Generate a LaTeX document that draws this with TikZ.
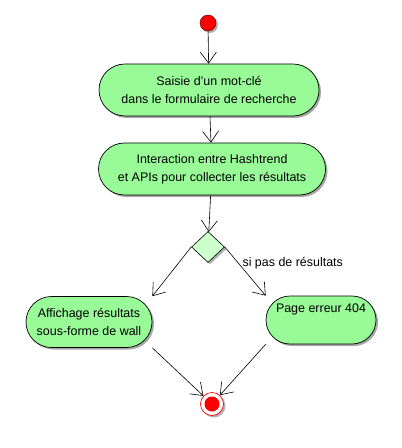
\documentclass[tikz,border=0pt]{standalone}
\usepackage{fontspec}
\setmainfont{Liberation Sans}
\usetikzlibrary{positioning, shapes.misc, shapes.geometric, shadows, arrows.meta}

\definecolor{actgreen}{RGB}{152,251,152}
\definecolor{decgreen}{RGB}{204,255,204}

\begin{document}
\begin{tikzpicture}[x=1bp, y=-1bp]
	\tikzstyle{activity}=[rounded rectangle, draw=black, line width=0.7bp, fill=actgreen, align=center, inner sep=2bp, font=\fontsize{12.5}{18.5}\selectfont, drop shadow={shadow xshift=2bp, shadow yshift=-2bp, fill=black!35, opacity=1}];
	\tikzstyle{arr}=[-{Straight Barb[length=11bp, width=16bp]}, line width=0.6bp];

	\useasboundingbox (0, 0) rectangle (401, 448);

	\node[circle, draw=black!70!red, fill=red, minimum size=16bp, inner sep=0, drop shadow={shadow xshift=2bp, shadow yshift=-2bp, fill=black!30, opacity=1}] (start) at (208, 23) {};

	\node[activity, minimum width=224bp, minimum height=52bp] (saisie) at (209, 90) {Saisie d'un mot-clé\\dans le formulaire de recherche};
	\node[activity, minimum width=231bp, minimum height=52bp] (api) at (212, 169) {Interaction entre Hashtrend\\et APIs pour collecter les résultats};

	\node[diamond, draw=black, line width=0.6bp, fill=decgreen, minimum width=33bp, minimum height=31bp, inner sep=0, aspect=1, drop shadow={shadow xshift=2bp, shadow yshift=-2bp, fill=black!30, opacity=1}] (dec) at (208, 247) {};
	\node[font=\fontsize{12.5}{15}\selectfont, anchor=west] (cond) at (239, 263) {si pas de résultats};

	\node[activity, minimum width=130bp, minimum height=51bp] (wall) at (89, 322) {Affichage résultats\\sous-forme de wall};
	\node[activity, minimum width=114bp, minimum height=48bp] (err) at (321, 320) {Page erreur 404\\\strut};

	\node[circle, draw=red, line width=0.7bp, fill=white, minimum size=23bp, inner sep=0, drop shadow={shadow xshift=2bp, shadow yshift=-2bp, fill=black!30, opacity=1}, path picture={\fill[red] (path picture bounding box.center) circle (7.5);}] (end) at (212, 404) {};

	\draw (start) edge[arr] (saisie);
	\draw (saisie) edge[arr] (api);
	\draw (api) edge[arr] (dec);
	\draw (dec.west) edge[arr] (wall.east |- wall.north);
	\draw (dec.east) edge[arr] (err.west |- err.north);
	\draw (wall.east |- wall.south) edge[arr] (end);
	\draw (err.west |- err.south) edge[arr] (end);

\end{tikzpicture}
\end{document}
